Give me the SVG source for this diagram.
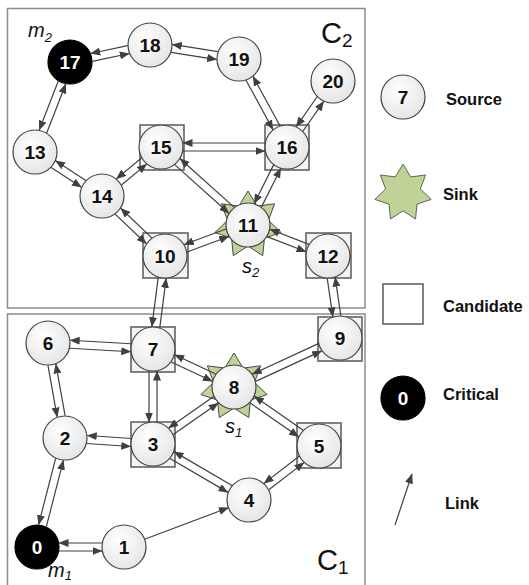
<svg xmlns="http://www.w3.org/2000/svg" xmlns:xlink="http://www.w3.org/1999/xlink" width="529" height="585" viewBox="0 0 529 585">
<style>
.frame{fill:none;stroke:#8c8c8c;stroke-width:1.5}
.nd{fill:url(#ng);stroke:#444;stroke-width:1.2}
.crit{fill:#000;stroke:#000;stroke-width:1.2}
.sq{fill:#f4f4f4;stroke:#595959;stroke-width:1.5}
.star{fill:#bfd396;stroke:#4a4a4a;stroke-width:1}
.num{font-family:"Liberation Sans",Arial,sans-serif;font-weight:bold;font-size:19px;text-anchor:middle;fill:#111}
.wnum{font-family:"Liberation Sans",Arial,sans-serif;font-weight:bold;font-size:19px;text-anchor:middle;fill:#fff}
.lab{font-family:"Liberation Sans",Arial,sans-serif;font-style:italic;font-size:20px;fill:#111}
.cl{font-family:"Liberation Sans",Arial,sans-serif;font-size:29px;fill:#111}
.leg{font-family:"Liberation Sans",Arial,sans-serif;font-weight:bold;font-size:16.5px;fill:#111}
#links line{stroke:#404040;stroke-width:1.2;marker-end:url(#ah)}
</style>
<defs>
<radialGradient id="ng" cx="0.4" cy="0.35" r="0.75">
<stop offset="0" stop-color="#ffffff"/>
<stop offset="1" stop-color="#e2e2e2"/>
</radialGradient>
<marker id="ah" markerWidth="10" markerHeight="8" refX="9.5" refY="4" orient="auto" markerUnits="userSpaceOnUse">
<path d="M0,0 L10,4 L0,8 z" fill="#404040"/>
</marker>
<polygon id="starshape" points="0,-34 9.11,-18.92 26.58,-21.2 20.47,-4.67 33.15,7.57 16.42,13.09 14.75,30.63 0,21 -14.75,30.63 -16.42,13.09 -33.15,7.57 -20.47,-4.67 -26.58,-21.2 -9.11,-18.92"/>
</defs>
<rect width="529" height="585" fill="#fff"/>
<!-- cluster frames -->
<rect class="frame" x="7.5" y="8.5" width="357.5" height="299.5"/>
<rect class="frame" x="7.5" y="314" width="357.5" height="280"/>
<text class="cl" x="321" y="43">C<tspan font-size="19" dy="4">2</tspan></text>
<text class="cl" x="317" y="570">C<tspan font-size="19" dy="4">1</tspan></text>

<!-- nodes -->
<g id="n0"><circle class="crit" cx="37" cy="547" r="22"/><text class="wnum" x="37" y="554">0</text></g>
<g id="n1"><circle class="nd" cx="124" cy="547" r="22"/><text class="num" x="124" y="554">1</text></g>
<g id="n2"><circle class="nd" cx="65" cy="438" r="22"/><text class="num" x="65" y="445">2</text></g>
<g id="n3"><rect class="sq" x="131" y="422" width="44" height="45"/><circle class="nd" cx="153" cy="444" r="22"/><text class="num" x="153" y="451">3</text></g>
<g id="n4"><circle class="nd" cx="249" cy="500" r="22"/><text class="num" x="249" y="507">4</text></g>
<g id="n5"><rect class="sq" x="297" y="423" width="44" height="45"/><circle class="nd" cx="319" cy="446" r="22"/><text class="num" x="319" y="453">5</text></g>
<g id="n6"><circle class="nd" cx="48" cy="343" r="22"/><text class="num" x="48" y="350">6</text></g>
<g id="n7"><rect class="sq" x="131" y="327" width="44" height="45"/><circle class="nd" cx="153" cy="349" r="22"/><text class="num" x="153" y="356">7</text></g>
<g id="n8"><use xlink:href="#starshape" href="#starshape" class="star" transform="translate(234,387)"/><circle class="nd" cx="234" cy="387" r="22"/><text class="num" x="234" y="394">8</text></g>
<g id="n9"><rect class="sq" x="318" y="317" width="44" height="44"/><circle class="nd" cx="340" cy="338" r="22"/><text class="num" x="340" y="345">9</text></g>
<g id="n10"><rect class="sq" x="143" y="233" width="45" height="45"/><circle class="nd" cx="165" cy="256" r="22"/><text class="num" x="165" y="263">10</text></g>
<g id="n11"><use xlink:href="#starshape" href="#starshape" class="star" transform="translate(248,225)"/><circle class="nd" cx="248" cy="225" r="22"/><text class="num" x="248" y="232">11</text></g>
<g id="n12"><rect class="sq" x="306" y="233" width="45" height="45"/><circle class="nd" cx="328" cy="256" r="22"/><text class="num" x="328" y="263">12</text></g>
<g id="n13"><circle class="nd" cx="35" cy="152" r="22"/><text class="num" x="35" y="159">13</text></g>
<g id="n14"><circle class="nd" cx="102" cy="196" r="22"/><text class="num" x="102" y="203">14</text></g>
<g id="n15"><rect class="sq" x="140" y="125" width="44" height="45"/><circle class="nd" cx="161" cy="147" r="22"/><text class="num" x="161" y="154">15</text></g>
<g id="n16"><rect class="sq" x="265" y="125" width="44" height="45"/><circle class="nd" cx="287" cy="147" r="22"/><text class="num" x="287" y="154">16</text></g>
<g id="n17"><circle class="crit" cx="70" cy="62" r="22"/><text class="wnum" x="70" y="69">17</text></g>
<g id="n18"><circle class="nd" cx="150" cy="45" r="22"/><text class="num" x="150" y="52">18</text></g>
<g id="n19"><circle class="nd" cx="239" cy="59" r="22"/><text class="num" x="239" y="66">19</text></g>
<g id="n20"><circle class="nd" cx="333" cy="81" r="22"/><text class="num" x="333" y="88">20</text></g>

<!-- node annotations -->
<text class="lab" x="28" y="37">m<tspan font-size="13" dy="5">2</tspan></text>
<text class="lab" x="48" y="577">m<tspan font-size="13" dy="3">1</tspan></text>
<text class="lab" x="242" y="273">s<tspan font-size="13" dy="4">2</tspan></text>
<text class="lab" x="225" y="433">s<tspan font-size="13" dy="4">1</tspan></text>

<!-- connectors -->
<g id="links">
<g transform="translate(70,62) rotate(-12.0)"><line x1="22" y1="4" x2="59.79" y2="4"/><line x1="59.79" y1="-4" x2="22" y2="-4"/></g>
<g transform="translate(150,45) rotate(8.94)"><line x1="22" y1="4" x2="68.09" y2="4"/><line x1="68.09" y1="-4" x2="22" y2="-4"/></g>
<g transform="translate(70,62) rotate(111.25)"><line x1="22" y1="4" x2="74.57" y2="4"/><line x1="74.57" y1="-4" x2="22" y2="-4"/></g>
<g transform="translate(35,152) rotate(33.29)"><line x1="22" y1="4" x2="58.16" y2="4"/><line x1="58.16" y1="-4" x2="22" y2="-4"/></g>
<g transform="translate(102,196) rotate(-39.71)"><line x1="22" y1="4" x2="54.69" y2="4"/><line x1="54.69" y1="-4" x2="22" y2="-4"/></g>
<g transform="translate(102,196) rotate(43.6)"><line x1="22" y1="4" x2="65" y2="4"/><line x1="65" y1="-4" x2="22" y2="-4"/></g>
<g transform="translate(161,147) rotate(0)"><line x1="22" y1="4" x2="104" y2="4"/><line x1="104" y1="-4" x2="22" y2="-4"/></g>
<g transform="translate(239,59) rotate(61.39)"><line x1="22" y1="4" x2="78.24" y2="4"/><line x1="78.24" y1="-4" x2="22" y2="-4"/></g>
<g transform="translate(333,81) rotate(124.87)"><line x1="22" y1="4" x2="58.45" y2="4"/><line x1="58.45" y1="-4" x2="22" y2="-4"/></g>
<g transform="translate(287,147) rotate(116.57)"><line x1="22" y1="4" x2="65.21" y2="4"/><line x1="65.21" y1="-4" x2="22" y2="-4"/></g>
<g transform="translate(161,147) rotate(41.88)"><line x1="22" y1="4" x2="94.85" y2="4"/><line x1="94.85" y1="-4" x2="22" y2="-4"/></g>
<g transform="translate(165,256) rotate(-20.48)"><line x1="22" y1="4" x2="66.6" y2="4"/><line x1="66.6" y1="-4" x2="22" y2="-4"/></g>
<g transform="translate(248,225) rotate(21.18)"><line x1="22" y1="4" x2="63.8" y2="4"/><line x1="63.8" y1="-4" x2="22" y2="-4"/></g>
<g transform="translate(328,256) rotate(81.67)"><line x1="22" y1="4" x2="60.87" y2="4"/><line x1="60.87" y1="-4" x2="22" y2="-4"/></g>
<g transform="translate(165,256) rotate(97.35)"><line x1="22" y1="4" x2="71.77" y2="4"/><line x1="71.77" y1="-4" x2="22" y2="-4"/></g>
<g transform="translate(153,349) rotate(-176.73)"><line x1="22" y1="4" x2="83.17" y2="4"/><line x1="83.17" y1="-4" x2="22" y2="-4"/></g>
<g transform="translate(153,349) rotate(90)"><line x1="22" y1="4" x2="73" y2="4"/><line x1="73" y1="-4" x2="22" y2="-4"/></g>
<g transform="translate(153,349) rotate(25.13)"><line x1="22" y1="4" x2="67.47" y2="4"/><line x1="67.47" y1="-4" x2="22" y2="-4"/></g>
<g transform="translate(48,343) rotate(79.85)"><line x1="22" y1="4" x2="74.51" y2="4"/><line x1="74.51" y1="-4" x2="22" y2="-4"/></g>
<g transform="translate(65,438) rotate(3.9)"><line x1="22" y1="4" x2="66.2" y2="4"/><line x1="66.2" y1="-4" x2="22" y2="-4"/></g>
<g transform="translate(65,438) rotate(104.41)"><line x1="22" y1="4" x2="90.54" y2="4"/><line x1="90.54" y1="-4" x2="22" y2="-4"/></g>
<g transform="translate(153,444) rotate(-35.13)"><line x1="22" y1="4" x2="77.05" y2="4"/><line x1="77.05" y1="-4" x2="22" y2="-4"/></g>
<g transform="translate(153,444) rotate(30.26)"><line x1="22" y1="4" x2="89.14" y2="4"/><line x1="89.14" y1="-4" x2="22" y2="-4"/></g>
<g transform="translate(234,387) rotate(-24.81)"><line x1="22" y1="4" x2="94.78" y2="4"/><line x1="94.78" y1="-4" x2="22" y2="-4"/></g>
<g transform="translate(234,387) rotate(34.77)"><line x1="22" y1="4" x2="81.47" y2="4"/><line x1="81.47" y1="-4" x2="22" y2="-4"/></g>
<g transform="translate(319,446) rotate(142.35)"><line x1="22" y1="4" x2="66.41" y2="4"/><line x1="66.41" y1="-4" x2="22" y2="-4"/></g>
<g transform="translate(37,547) rotate(0)"><line x1="22" y1="4" x2="65" y2="4"/><line x1="65" y1="-4" x2="22" y2="-4"/></g>
<g transform="translate(124,547) rotate(-20.61)"><line x1="22" y1="0" x2="111.54" y2="0"/></g>
</g>

<!-- legend -->
<g id="legend">
<circle class="nd" cx="403" cy="97" r="22"/><text class="num" x="403" y="104">7</text>
<text class="leg" x="446" y="105">Source</text>
<use xlink:href="#starshape" href="#starshape" class="star" transform="translate(403,193) scale(0.85)"/>
<text class="leg" x="443" y="200">Sink</text>
<rect class="sq" x="383" y="284" width="40" height="40" style="fill:#fff"/>
<text class="leg" x="443" y="312">Candidate</text>
<circle class="crit" cx="403" cy="398" r="22"/><text class="wnum" x="403" y="405">0</text>
<text class="leg" x="443" y="400">Critical</text>
<line x1="395" y1="525" x2="412" y2="474" stroke="#404040" stroke-width="1.2" marker-end="url(#ah)"/>
<text class="leg" x="445" y="509">Link</text>
</g>
</svg>
